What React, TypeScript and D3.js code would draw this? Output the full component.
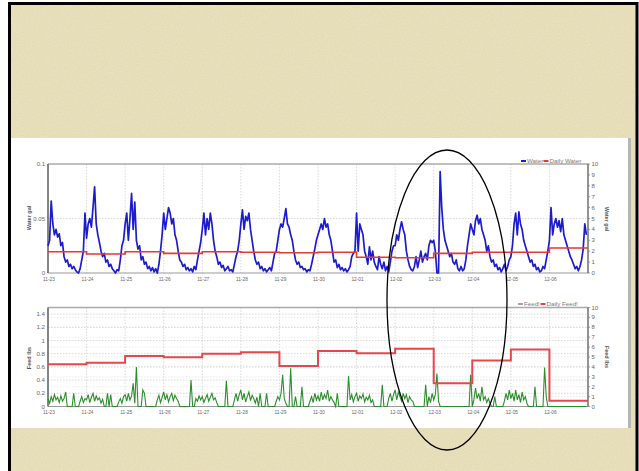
import React from "react";
import * as d3 from "d3";

const DAYS = ["11-23","11-24","11-25","11-26","11-27","11-28","11-29","11-30","12-01","12-02","12-03","12-04","12-05","12-06"];

// Water (left axis, gal) — hourly readings, one row per day
const WATER: number[][] = [
  [0.025,0.03,0.066,0.045,0.035,0.04,0.033,0.036,0.025,0.028,0.015,0.01,0.012,0.006,0.008,0.004,0.006,0.003,0.001,0.0,0.004,0.012,0.02,0.055],
  [0.032,0.045,0.05,0.042,0.06,0.079,0.045,0.035,0.028,0.02,0.015,0.018,0.01,0.012,0.006,0.008,0.004,0.002,0.0,0.003,0.002,0.012,0.025,0.03],
  [0.045,0.055,0.03,0.05,0.073,0.04,0.065,0.03,0.022,0.025,0.012,0.015,0.008,0.01,0.004,0.006,0.002,0.005,0.001,0.004,0.0,0.008,0.02,0.035],
  [0.055,0.04,0.05,0.06,0.055,0.045,0.05,0.035,0.03,0.02,0.012,0.01,0.006,0.008,0.003,0.005,0.002,0.004,0.001,0.006,0.003,0.012,0.02,0.028],
  [0.04,0.055,0.035,0.05,0.04,0.055,0.045,0.03,0.02,0.015,0.008,0.01,0.005,0.007,0.002,0.004,0.006,0.002,0.003,0.001,0.008,0.015,0.02,0.03],
  [0.045,0.058,0.04,0.052,0.048,0.055,0.04,0.03,0.02,0.012,0.008,0.01,0.004,0.006,0.002,0.004,0.001,0.003,0.005,0.002,0.01,0.018,0.02,0.03],
  [0.04,0.045,0.042,0.05,0.059,0.045,0.042,0.035,0.03,0.02,0.012,0.008,0.01,0.005,0.006,0.003,0.004,0.001,0.003,0.002,0.008,0.015,0.022,0.03],
  [0.035,0.04,0.045,0.04,0.05,0.042,0.045,0.035,0.03,0.02,0.01,0.012,0.005,0.008,0.003,0.005,0.002,0.004,0.001,0.003,0.006,0.015,0.018,0.02],
  [0.055,0.02,0.045,0.04,0.035,0.02,0.015,0.008,0.024,0.012,0.02,0.01,0.006,0.003,0.015,0.008,0.004,0.01,0.002,0.006,0.001,0.01,0.02,0.025],
  [0.025,0.035,0.03,0.04,0.047,0.04,0.035,0.02,0.012,0.006,0.003,0.002,0.006,0.015,0.005,0.012,0.02,0.01,0.015,0.018,0.012,0.025,0.03,0.028],
  [0.03,0.02,0.0,0.0,0.093,0.06,0.04,0.03,0.025,0.02,0.015,0.018,0.01,0.008,0.012,0.004,0.002,0.006,0.002,0.004,0.012,0.025,0.035,0.045],
  [0.04,0.035,0.048,0.053,0.045,0.05,0.04,0.035,0.03,0.02,0.025,0.015,0.01,0.012,0.006,0.008,0.003,0.005,0.001,0.004,0.008,0.002,0.006,0.012],
  [0.015,0.025,0.045,0.055,0.035,0.056,0.045,0.04,0.03,0.025,0.02,0.015,0.01,0.012,0.006,0.008,0.003,0.005,0.001,0.002,0.006,0.004,0.012,0.02],
  [0.03,0.06,0.035,0.045,0.05,0.042,0.048,0.038,0.05,0.035,0.03,0.025,0.02,0.015,0.012,0.008,0.004,0.006,0.002,0.006,0.012,0.022,0.045,0.035],
];

// Daily Water (right axis)
const DAILY_WATER = [1.95,1.74,1.95,1.8,1.95,1.9,1.86,1.9,1.44,1.4,1.8,1.9,1.9,2.3];

// Feed! (left axis, lbs) — hourly readings, one row per day
const FEED: number[][] = [
  [0.12,0.05,0.15,0.08,0.18,0.1,0.14,0.06,0.16,0.08,0.12,0.22,0,0,0,0,0.2,0,0,0,0.08,0.15,0.06,0.12],
  [0.1,0.18,0.06,0.14,0.2,0.08,0.16,0.1,0.13,0.05,0.11,0,0,0.2,0,0.18,0,0,0,0,0.07,0.12,0.05,0.15],
  [0.18,0.08,0.2,0.1,0.16,0.35,0.05,0.6,0,0,0,0.25,0.2,0,0,0,0,0,0,0,0.1,0.17,0.06,0.14],
  [0.22,0.1,0.18,0.07,0.15,0.2,0.09,0.17,0.12,0.08,0,0,0,0,0,0,0,0.4,0,0,0.12,0.08,0.16,0.1],
  [0.15,0.06,0.12,0.18,0.08,0.14,0.2,0.1,0.13,0.06,0,0,0,0,0,0.39,0,0,0,0,0.1,0.2,0.08,0.18],
  [0.25,0.1,0.2,0.07,0.15,0.22,0.09,0.17,0.12,0.05,0.14,0,0.2,0,0,0,0.2,0,0,0,0,0,0.08,0.15],
  [0.1,0.2,0.48,0.12,0.05,0,0,0.58,0,0,0.15,0,0,0,0.3,0,0,0,0,0.08,0.15,0.06,0.2,0.1],
  [0.16,0.08,0.22,0.1,0.18,0.12,0.25,0.08,0.15,0.1,0.06,0,0.2,0,0,0,0,0,0,0.46,0.1,0.18,0.07,0.15],
  [0.2,0.08,0.16,0.12,0.19,0.07,0.14,0.1,0.17,0.06,0.1,0,0,0,0,0,0.33,0,0,0,0.12,0.2,0.08,0.18],
  [0.25,0.1,0.22,0.15,0.08,0.2,0.12,0.18,0.06,0.15,0.1,0.08,0,0,0,0,0,0,0,0.33,0,0.15,0.06,0.2],
  [0.1,0.18,0.5,0.08,0,0,0,0,0,0,0,0,0,0,0,0,0,0,0,0,0,0,0,0.48],
  [0,0.1,0.28,0.12,0.2,0.08,0.3,0.1,0.15,0.06,0.12,0.05,0,0,0.15,0,0,0,0,0,0.08,0.2,0.1,0.25],
  [0.12,0.2,0.08,0.25,0.1,0.18,0.06,0.22,0.1,0.15,0.05,0,0,0,0,0.3,0,0,0,0,0,0.59,0.15,0],
  [0,0,0,0,0,0,0,0,0,0,0,0,0,0,0,0,0,0,0,0,0,0,0,0],
];

// Daily Feed! (right axis)
const DAILY_FEED = [4.27,4.43,5.1,4.97,5.33,5.47,4.09,5.6,5.37,5.83,2.36,4.65,5.77,0.57];

const WATER_TICKS = [0, 0.05, 0.1];
const WATER_TICK_LABELS = ["0", "0.05", "0.1"];
const FEED_TICKS = [0, 0.2, 0.4, 0.6, 0.8, 1, 1.2, 1.4];
const FEED_TICK_LABELS = ["0", "0.2", "0.4", "0.6", "0.8", "1", "1.2", "1.4"];
const RIGHT_TICKS = [0, 1, 2, 3, 4, 5, 6, 7, 8, 9, 10];

const FONT = "'Liberation Sans', Arial, sans-serif";

export default function App() {
  const W = 639, H = 471;
  const L = 48, R = 588;
  const x = d3.scaleLinear().domain([0, DAYS.length]).range([L, R]);
  const T1 = 164, B1 = 273;
  const T2 = 307.5, B2 = 406.5;
  const yW = d3.scaleLinear().domain([0, 0.1]).range([B1, T1]);
  const yWR = d3.scaleLinear().domain([0, 10]).range([B1, T1]);
  const yF = d3.scaleLinear().domain([0, 1.5]).range([B2, T2]);
  const yFR = d3.scaleLinear().domain([0, 10]).range([B2, T2]);

  const waterPts: [number, number][] = WATER.flatMap((day, d) => day.map((v, h) => [d + h / 24, v] as [number, number]));
  const feedPts: [number, number][] = FEED.flatMap((day, d) => day.map((v, h) => [d + h / 24, v] as [number, number]));
  const dwPts: [number, number][] = [...DAILY_WATER.map((v, i) => [i, v] as [number, number]), [DAYS.length, DAILY_WATER[DAILY_WATER.length - 1]]];
  const dfPts: [number, number][] = [...DAILY_FEED.map((v, i) => [i, v] as [number, number]), [DAYS.length, DAILY_FEED[DAILY_FEED.length - 1]]];

  const waterLine = d3.line<[number, number]>().x(d => x(d[0])).y(d => yW(d[1]))(waterPts) || "";
  const feedLine = d3.line<[number, number]>().x(d => x(d[0])).y(d => yF(d[1]))(feedPts) || "";
  const dwLine = d3.line<[number, number]>().curve(d3.curveStepAfter).x(d => x(d[0])).y(d => yWR(d[1]))(dwPts) || "";
  const dfLine = d3.line<[number, number]>().curve(d3.curveStepAfter).x(d => x(d[0])).y(d => yFR(d[1]))(dfPts) || "";

  const dayIdx = d3.range(DAYS.length);
  const txt = { fontFamily: FONT, fill: "#666" } as const;

  const chartFrame = (top: number, bottom: number) => (
    <g>
      <line x1={L} x2={R} y1={top} y2={top} stroke="#aaa" strokeWidth={1.6} />
      <line x1={L} x2={R} y1={bottom} y2={bottom} stroke="#999" strokeWidth={1} />
      <line x1={L} x2={L} y1={top} y2={bottom} stroke="#777" strokeWidth={1.8} />
      <line x1={R} x2={R} y1={top} y2={bottom} stroke="#666" strokeWidth={1.4} />
    </g>
  );

  return (
    <svg width={W} height={H} style={{ position: "absolute", left: 0, top: 0, display: "block" }}>
      <defs>
        <filter id="grain" x="0" y="0" width="100%" height="100%">
          <feTurbulence type="fractalNoise" baseFrequency="0.9" numOctaves="2" seed="3" result="n" />
          <feColorMatrix type="matrix" values="0 0 0 0 0.45  0 0 0 0 0.40  0 0 0 0 0.25  0 0 0 -1.1 0.75" />
        </filter>
      </defs>
      <rect x={0} y={0} width={W} height={H} fill="#ffffff" />
      {/* slide parchment */}
      <rect x={9.5} y={3.5} width={627.5} height={480} fill="#e9e1bc" />
      <rect x={9.5} y={3.5} width={627.5} height={480} filter="url(#grain)" opacity={0.25} />
      <rect x={9.5} y={3.5} width={627.5} height={480} fill="none" stroke="#000" strokeWidth={3} />

      {/* chart panel */}
      <rect x={11} y={138} width={617} height={290} fill="#fff" />
      <rect x={628} y={138} width={3} height={290} fill="#b5b5b5" />

      {/* ===== top chart ===== */}
      {dayIdx.slice(1).map(i => (
        <line key={"vg1" + i} x1={x(i)} x2={x(i)} y1={T1} y2={B1} stroke="#cfcfcf" strokeWidth={0.8} strokeDasharray="1.5,1.5" />
      ))}
      {WATER_TICKS.slice(1, -1).map(t => (
        <line key={"hg1" + t} x1={L} x2={R} y1={yW(t)} y2={yW(t)} stroke="#cfcfcf" strokeWidth={0.8} strokeDasharray="1.5,1.5" />
      ))}
      {chartFrame(T1, B1)}
      {WATER_TICKS.map((t, i) => (
        <text key={"wl" + t} x={45} y={yW(t) + 2} fontSize={6} textAnchor="end" {...txt}>{WATER_TICK_LABELS[i]}</text>
      ))}
      {RIGHT_TICKS.map(t => (
        <g key={"wr" + t}>
          <line x1={R} x2={R + 2} y1={yWR(t)} y2={yWR(t)} stroke="#777" strokeWidth={0.7} />
          <text x={591.5} y={yWR(t) + 2} fontSize={6} {...txt}>{t}</text>
        </g>
      ))}
      {dayIdx.map(i => (
        <text key={"xl1" + i} x={x(i) + 1} y={281} fontSize={4.8} textAnchor="middle" {...txt}>{DAYS[i]}</text>
      ))}
      <text transform={`translate(31,218) rotate(-90)`} fontSize={5.5} fontWeight="bold" textAnchor="middle" fontFamily={FONT} fill="#555">Water gal</text>
      <text transform={`translate(605,219) rotate(90)`} fontSize={5.5} fontWeight="bold" textAnchor="middle" fontFamily={FONT} fill="#555">Water gal</text>
      <path d={waterLine} fill="none" stroke="#1c1ccf" strokeWidth={1.7} strokeLinejoin="round" />
      <path d={dwLine} fill="none" stroke="#e53a32" strokeWidth={1.6} />
      {/* legend top */}
      <line x1={521} x2={526} y1={161} y2={161} stroke="#1c1ccf" strokeWidth={2} />
      <text x={527} y={163} fontSize={6.2} {...txt} fill="#7a7a7a">Water</text>
      <line x1={543.5} x2={548.5} y1={161} y2={161} stroke="#e53a32" strokeWidth={2} />
      <text x={549.5} y={163} fontSize={6.2} {...txt} fill="#7a7a7a">Daily Water</text>

      {/* ===== bottom chart ===== */}
      {dayIdx.slice(1).map(i => (
        <line key={"vg2" + i} x1={x(i)} x2={x(i)} y1={T2} y2={B2} stroke="#cfcfcf" strokeWidth={0.8} strokeDasharray="1.5,1.5" />
      ))}
      {RIGHT_TICKS.slice(1, -1).map(t => (
        <line key={"hg2r" + t} x1={L} x2={R} y1={yFR(t)} y2={yFR(t)} stroke="#e4e4e4" strokeWidth={0.7} strokeDasharray="1.5,1.5" />
      ))}
      {FEED_TICKS.slice(1).map(t => (
        <line key={"hg2" + t} x1={L} x2={R} y1={yF(t)} y2={yF(t)} stroke="#cfcfcf" strokeWidth={0.8} strokeDasharray="1.5,1.5" />
      ))}
      {chartFrame(T2, B2)}
      {FEED_TICKS.map((t, i) => (
        <text key={"fl" + t} x={45} y={yF(t) + 2} fontSize={6.2} textAnchor="end" {...txt}>{FEED_TICK_LABELS[i]}</text>
      ))}
      {RIGHT_TICKS.map(t => (
        <g key={"fr" + t}>
          <line x1={R} x2={R + 2} y1={yFR(t)} y2={yFR(t)} stroke="#777" strokeWidth={0.7} />
          <text x={591.5} y={yFR(t) + 2} fontSize={6} {...txt}>{t}</text>
        </g>
      ))}
      {dayIdx.map(i => (
        <text key={"xl2" + i} x={x(i) + 1} y={413.5} fontSize={4.8} textAnchor="middle" {...txt}>{DAYS[i]}</text>
      ))}
      <text transform={`translate(31,358) rotate(-90)`} fontSize={5.5} fontWeight="bold" textAnchor="middle" fontFamily={FONT} fill="#555">Feed lbs</text>
      <text transform={`translate(605,357) rotate(90)`} fontSize={5.5} fontWeight="bold" textAnchor="middle" fontFamily={FONT} fill="#555">Feed lbs</text>
      <path d={feedLine} fill="none" stroke="#2a8f2a" strokeWidth={1.1} strokeLinejoin="miter" />
      <path d={dfLine} fill="none" stroke="#e5474a" strokeWidth={2} />
      {/* legend bottom */}
      <line x1={518} x2={523} y1={304} y2={304} stroke="#666" strokeWidth={1.2} />
      <text x={524} y={306} fontSize={6.2} {...txt} fill="#7a7a7a">Feed!</text>
      <line x1={540.5} x2={545.5} y1={304} y2={304} stroke="#e5474a" strokeWidth={2} />
      <text x={546.5} y={306} fontSize={6.2} {...txt} fill="#7a7a7a">Daily Feed!</text>

      {/* highlight ellipse */}
      <ellipse cx={447} cy={300} rx={60} ry={150} fill="none" stroke="#000" strokeWidth={1.3} />
    </svg>
  );
}
